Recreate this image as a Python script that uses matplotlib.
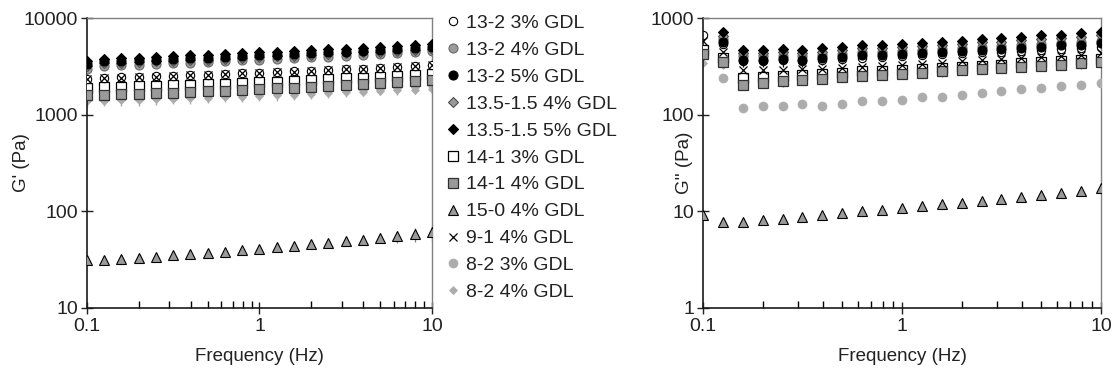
import numpy as np
import matplotlib
matplotlib.use("Agg")
import matplotlib.pyplot as plt
from matplotlib.ticker import FixedLocator, NullLocator, FixedFormatter

plt.rcParams['font.family'] = ['Liberation Sans', 'DejaVu Sans']

freq = [0.1, 0.126, 0.158, 0.2, 0.251, 0.316, 0.398, 0.501, 0.631, 0.794, 1.0,
        1.26, 1.58, 2.0, 2.51, 3.16, 3.98, 5.01, 6.31, 7.94, 10.0]

labels = ["13-2 3% GDL", "13-2 4% GDL", "13-2 5% GDL", "13.5-1.5 4% GDL",
          "13.5-1.5 5% GDL", "14-1 3% GDL", "14-1 4% GDL", "15-0 4% GDL",
          "9-1 4% GDL", "8-2 3% GDL", "8-2 4% GDL"]

# G' (Pa)
gp_13_2_3 = [2350, 2400, 2430, 2460, 2490, 2520, 2560, 2600, 2640, 2680, 2720, 2760, 2800, 2850, 2900, 2950, 3000, 3060, 3120, 3180, 3250]
gp_13_2_4 = [3000, 3200, 3250, 3300, 3350, 3400, 3460, 3520, 3580, 3640, 3700, 3770, 3840, 3910, 3990, 4070, 4150, 4240, 4330, 4420, 4520]
gp_13_2_5 = [3350, 3550, 3600, 3650, 3700, 3760, 3820, 3890, 3960, 4030, 4100, 4180, 4260, 4340, 4420, 4500, 4600, 4700, 4800, 4900, 5000]
gp_135_4 = [3200, 3400, 3450, 3500, 3550, 3600, 3660, 3720, 3790, 3860, 3930, 4000, 4080, 4160, 4240, 4320, 4410, 4500, 4600, 4700, 4800]
gp_135_5 = [3600, 3800, 3850, 3900, 3950, 4020, 4100, 4170, 4250, 4320, 4400, 4480, 4560, 4650, 4740, 4830, 4930, 5030, 5130, 5230, 5350]
gp_14_1_3 = [1900, 1930, 1950, 1970, 1990, 2010, 2040, 2070, 2100, 2130, 2160, 2200, 2240, 2280, 2320, 2370, 2420, 2470, 2530, 2590, 2650]
gp_14_1_4 = [1580, 1600, 1620, 1640, 1660, 1680, 1710, 1740, 1770, 1800, 1830, 1870, 1910, 1950, 1990, 2030, 2080, 2130, 2180, 2230, 2290]
gp_15_0_4 = [31, 31, 32, 33, 34, 35, 36, 37, 38, 39.5, 41, 42.5, 44, 45.5, 47, 49, 51, 53, 55, 58, 61]
gp_9_1_4 = [2330, 2390, 2420, 2450, 2480, 2510, 2550, 2590, 2630, 2670, 2710, 2750, 2790, 2840, 2890, 2940, 2990, 3050, 3110, 3170, 3240]
gp_8_2_3 = [1480, 1500, 1520, 1540, 1560, 1580, 1600, 1620, 1650, 1680, 1710, 1740, 1770, 1800, 1830, 1870, 1910, 1950, 1990, 2030, 2080]
gp_8_2_4 = [1380, 1400, 1410, 1420, 1440, 1460, 1480, 1500, 1520, 1540, 1560, 1580, 1610, 1640, 1670, 1700, 1730, 1760, 1790, 1820, 1850]
gp_err_15_0_4 = [3, 3, 3, 3, 3, 3, 3, 3, 3, 3, 4, 4, 4, 5, 5, 5, 6, 6, 8, 10, 12]
gp_err_8_2_4 = [180, 180, 180, 180, 180, 180, 180, 180, 180, 180, 180, 180, 180, 180, 180, 180, 180, 180, 180, 180, 180]

# G'' (Pa)
nan = float('nan')
gpp_13_2_3 = [660, 540, 360, 360, 365, 360, 370, 380, 390, 395, 400, 410, 420, 430, 440, 450, 460, 470, 480, 490, 500]
gpp_13_2_4 = [nan, 600, 400, 400, 405, 400, 415, 425, 440, 445, 455, 465, 475, 490, 500, 515, 525, 540, 550, 565, 580]
gpp_13_2_5 = [nan, 560, 370, 370, 375, 370, 385, 395, 410, 415, 425, 435, 445, 460, 470, 480, 495, 505, 520, 530, 545]
gpp_135_4 = [nan, 650, 430, 430, 440, 430, 450, 465, 485, 490, 500, 515, 525, 540, 560, 570, 590, 610, 620, 640, 660]
gpp_135_5 = [nan, 720, 465, 465, 475, 465, 485, 500, 525, 525, 535, 550, 565, 580, 605, 615, 635, 665, 675, 695, 715]
gpp_14_1_3 = [470, 390, 240, 245, 250, 255, 262, 270, 280, 285, 292, 300, 305, 315, 322, 330, 340, 348, 355, 365, 375]
gpp_14_1_4 = [420, 350, 205, 215, 222, 228, 235, 245, 252, 258, 265, 272, 280, 288, 295, 305, 315, 322, 330, 340, 350]
gpp_15_0_4 = [9.2, 7.7, 7.8, 8.1, 8.4, 8.8, 9.2, 9.6, 10.0, 10.4, 10.8, 11.3, 11.8, 12.3, 12.8, 13.5, 14.0, 14.7, 15.3, 16.1, 17.5]
gpp_9_1_4 = [585, 440, 290, 290, 290, 295, 300, 305, 315, 320, 330, 335, 345, 355, 365, 375, 385, 395, 405, 415, 430]
gpp_8_2_3 = [nan, 237, 116, 122, 123, 128, 122, 130, 140, 140, 143, 151, 154, 161, 166, 175, 183, 191, 196, 205, 212]
gpp_8_2_4 = [345, 330, 200, 210, 215, 222, 228, 238, 245, 250, 258, 265, 272, 280, 288, 296, 305, 313, 320, 330, 340]
gpp_err_black = [0, 60, 60, 60, 60, 60, 60, 60, 60, 60, 60, 60, 60, 60, 60, 60, 60, 60, 60, 60, 60]

gp_series = [gp_13_2_3, gp_13_2_4, gp_13_2_5, gp_135_4, gp_135_5, gp_14_1_3,
             gp_14_1_4, gp_15_0_4, gp_9_1_4, gp_8_2_3, gp_8_2_4]
gpp_series = [gpp_13_2_3, gpp_13_2_4, gpp_13_2_5, gpp_135_4, gpp_135_5, gpp_14_1_3,
              gpp_14_1_4, gpp_15_0_4, gpp_9_1_4, gpp_8_2_3, gpp_8_2_4]

styles = [
    dict(marker='o', mfc='white', mec='black', ms=6, mew=0.8),
    dict(marker='o', mfc='#9a9a9a', mec='#6a6a6a', ms=6.5, mew=0.8),
    dict(marker='o', mfc='black', mec='black', ms=6.5, mew=0.8),
    dict(marker='D', mfc='#9a9a9a', mec='#505050', ms=5, mew=0.8),
    dict(marker='D', mfc='black', mec='black', ms=5, mew=0.8),
    dict(marker='s', mfc='white', mec='black', ms=6.5, mew=0.9),
    dict(marker='s', mfc='#9a9a9a', mec='#303030', ms=6.5, mew=0.9),
    dict(marker='^', mfc='#9a9a9a', mec='black', ms=6.5, mew=0.8),
    dict(marker='x', color='black', mec='black', ms=6, mew=0.9),
    dict(marker='o', mfc='#acacac', mec='#acacac', ms=6.5, mew=0.5),
    dict(marker='D', mfc='#acacac', mec='#acacac', ms=4, mew=0.5),
]
zord_left = [4, 5, 6, 5, 7, 3, 3, 3, 5, 2, 2]
zord_right = [2, 5, 6, 5, 7, 4, 4, 3, 5, 3, 2]

TICK_FS = 14
LAB_FS = 13.5

fig = plt.figure(figsize=(11.15, 3.73), dpi=100)
axL = fig.add_axes([0.078, 0.1743, 0.3094, 0.7774])
axR = fig.add_axes([0.6305, 0.1743, 0.3569, 0.7774])

def style_axes(ax, ylim, yticks, ylabel):
    ax.set_xscale('log')
    ax.set_yscale('log')
    ax.set_xlim(0.1, 10)
    ax.set_ylim(*ylim)
    ax.yaxis.set_major_locator(FixedLocator(yticks))
    ax.yaxis.set_major_formatter(FixedFormatter([str(t) for t in yticks]))
    ax.yaxis.set_minor_locator(NullLocator())
    ax.xaxis.set_major_locator(FixedLocator([0.1, 1, 10]))
    ax.xaxis.set_major_formatter(FixedFormatter(['0.1', '1', '10']))
    ax.tick_params(axis='both', which='major', direction='inout', length=9,
                   width=1.0, labelsize=TICK_FS, colors='#222222')
    ax.tick_params(axis='x', which='major', pad=3)
    ax.tick_params(axis='x', which='minor', direction='in', length=5, width=1.0)
    ax.tick_params(axis='y', which='major', pad=2)
    ax.set_xlabel('Frequency (Hz)', fontsize=LAB_FS, color='#222222', labelpad=9)
    ax.set_ylabel(ylabel, fontsize=LAB_FS, color='#222222')
    for s in ['left', 'bottom']:
        ax.spines[s].set_linewidth(1.2)
        ax.spines[s].set_color('#1a1a1a')
    for s in ['top', 'right']:
        ax.spines[s].set_linewidth(1.0)
        ax.spines[s].set_color('#808080')

handles = []
for i, (ys, st, lab) in enumerate(zip(gp_series, styles, labels)):
    h, = axL.plot(freq, ys, linestyle='none', label=lab, zorder=zord_left[i], **st)
    handles.append(h)
axL.errorbar(freq, gp_15_0_4, yerr=gp_err_15_0_4, fmt='none', ecolor='#808080',
             elinewidth=0.9, zorder=2)
axL.errorbar(freq, gp_8_2_4, yerr=gp_err_8_2_4, fmt='none', ecolor='#acacac',
             elinewidth=1.0, zorder=1)

for i, (ys, st) in enumerate(zip(gpp_series, styles)):
    axR.plot(freq, ys, linestyle='none', zorder=zord_right[i], **st)
axR.errorbar(freq, gpp_13_2_5, yerr=gpp_err_black, fmt='none', ecolor='black',
             elinewidth=0.9, zorder=1)

style_axes(axL, (10, 10000), [10, 100, 1000, 10000], "G' (Pa)")
style_axes(axR, (1, 1000), [1, 10, 100, 1000], "G'' (Pa)")
axL.yaxis.set_label_coords(-0.165, 0.5)
axR.yaxis.set_label_coords(-0.026, 0.5)

fig.legend(handles=handles, loc='upper left', bbox_to_anchor=(0.401, 0.962),
           frameon=False, fontsize=TICK_FS, handlelength=0.6, handletextpad=0.35,
           labelspacing=0.48, borderaxespad=0, borderpad=0,
           labelcolor='#222222')

fig.savefig('out.png', dpi=100)
